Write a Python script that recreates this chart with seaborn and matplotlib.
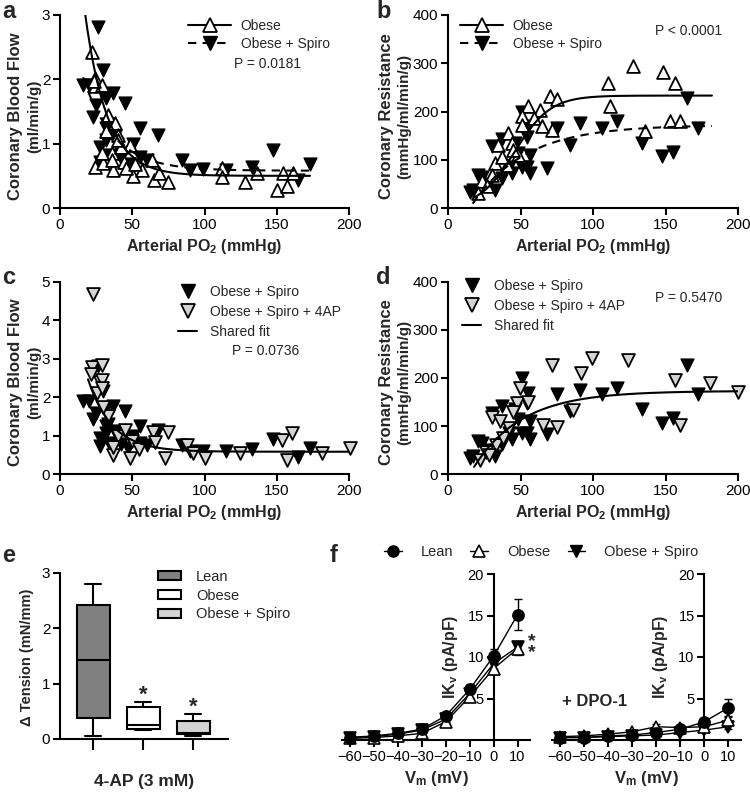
import numpy as np
import pandas as pd
import matplotlib
matplotlib.use("Agg")
import matplotlib.pyplot as plt
import seaborn as sns
from matplotlib.lines import Line2D
from matplotlib.patches import Patch

# ---- panel a / c : coronary blood flow (ml/min/g) vs arterial PO2 ----
obese_po2_flow = [21.9, 24.2, 24.2, 28.8, 33.4, 38.0, 40.4, 48.4, 35.8, 42.5, 24.2, 37.0, 30.0,
                  50.7, 57.0, 63.5, 65.0, 68.5, 75.0, 112, 112, 128, 136, 150, 154.5, 157, 161.5,
                  32, 36, 44, 46, 52, 40, 29, 23.7]
obese_flow = [2.43, 2.02, 1.89, 1.91, 1.45, 1.32, 1.14, 0.98, 0.85, 0.95, 0.64, 0.59, 0.70,
              0.49, 0.59, 0.75, 0.44, 0.54, 0.41, 0.62, 0.48, 0.41, 0.54, 0.28, 0.54, 0.34, 0.54,
              1.20, 0.75, 0.72, 0.62, 0.68, 1.05, 0.85, 1.98]
spiro_po2_flow = [26.5, 16.1, 20.0, 30.0, 23.0, 31.8, 36.5, 45.0, 31.8, 55.4, 68.0, 27.7, 31.8,
                  39.4, 50.7, 55.4, 59.9, 84.2, 90.0, 99.2, 115, 133, 147.6, 165, 173, 34, 42,
                  47, 28, 38, 33, 25]
spiro_flow = [2.82, 1.91, 1.91, 2.15, 1.42, 1.71, 1.78, 1.63, 1.24, 1.24, 1.14, 0.72, 1.06,
              1.00, 1.00, 0.80, 0.75, 0.75, 0.59, 0.61, 0.59, 0.64, 0.90, 0.44, 0.69, 0.82, 0.78,
              0.68, 0.95, 1.12, 1.30, 1.60]
ap_po2_flow = [23, 22, 27.7, 21.5, 25.4, 28.9, 28.9, 29, 64.6, 75, 65.7, 36.9, 48.4, 72.6, 87.7,
               92.3, 100.3, 124.6, 153.4, 160.3, 156.9, 181, 200.7, 33, 40, 45, 50, 55, 30, 37]
ap_flow = [4.70, 2.79, 2.40, 2.60, 2.10, 2.84, 2.45, 2.23, 1.10, 1.10, 0.84, 0.49, 0.41, 0.41,
           0.75, 0.54, 0.41, 0.54, 0.89, 1.06, 0.36, 0.54, 0.67, 1.50, 1.00, 1.15, 0.85, 0.65,
           1.75, 0.70]

# ---- panel b / d : coronary resistance (mmHg/ml/min/g) vs arterial PO2 ----
obese_po2_res = [70.3, 75, 110.6, 111.7, 127.8, 148.5, 156.6, 135.9, 153, 160, 72, 63.4, 55.4,
                 51, 59, 64.6, 41.6, 34.7, 43.9, 48.5, 50.8, 32.4, 30.1, 23.2, 20.9, 40.4, 37,
                 45, 27]
obese_res = [232, 225, 260, 211, 294, 281, 260, 159, 180, 180, 162, 204, 211, 190, 187, 169, 156,
             131, 135, 110, 173, 93, 69, 55, 31, 90, 105, 120, 45]
spiro_po2_res = [51, 55.4, 54.3, 46.2, 37, 30.1, 75, 84.1, 91, 106, 116.3, 133.6, 147.4, 155.4,
                 164.6, 172.6, 68, 56.5, 54.3, 56.5, 51, 44, 37, 32.3, 23.2, 17.5, 21, 15.2, 42,
                 26, 48]
spiro_res = [200, 169, 148, 135, 142, 128, 166, 131, 176, 166, 180, 135, 107, 117, 228, 166, 83,
             110, 86, 72, 86, 72, 62, 37, 65, 37, 69, 34, 86, 50, 115]
ap_po2_res = [71.5, 99, 92, 124.4, 156.6, 180.7, 200, 49.7, 65.7, 75, 86.4, 30, 47.4, 160, 22,
              26, 33, 38, 42, 55, 36, 28, 45]
ap_res = [227, 241, 210, 237, 196, 189, 171, 179, 102, 98, 133, 119, 147, 102, 30, 45, 60, 75,
          95, 150, 110, 40, 130]

# fitted curve parameters
fit_a_obese = dict(plateau=0.50, span=7.8, k=0.065, start=17.5, stop=173)
fit_a_spiro = dict(plateau=0.58, span=3.08, k=0.047, start=16, stop=173)
fit_b_obese = dict(top=233, x50=46, slope=12.3, start=18, stop=182)
fit_b_spiro = dict(top=172, x0=15, k=0.027, start=17, stop=182)
fit_c_shared = dict(plateau=0.58, span=6.04, k=0.06, start=19.4, stop=200)
fit_d_shared = dict(top=173, x0=15, k=0.03, start=18, stop=200)

# ---- panel e : 4-AP tension (min, q1, median, q3, max) ----
groups_e = ["Lean", "Obese", "Obese + Spiro"]
lean_tension = [0.05, 0.38, 1.43, 2.43, 2.80]
obese_tension = [0.17, 0.18, 0.25, 0.58, 0.67]
spiro_tension = [0.05, 0.09, 0.10, 0.33, 0.45]

# ---- panel f : IKv current-voltage ----
vm = [-60, -50, -40, -30, -20, -10, 0, 10]
lean_ik = [0.3, 0.5, 0.8, 1.3, 2.9, 6.1, 10.1, 15.1]
lean_ik_err = [0.1, 0.1, 0.15, 0.2, 0.4, 0.6, 0.9, 1.9]
obese_ik = [0.2, 0.3, 0.5, 0.8, 2.2, 5.2, 8.6, 11.0]
obese_ik_err = [0.1, 0.1, 0.1, 0.2, 0.3, 0.5, 0.7, 0.8]
spiro_ik = [0.3, 0.4, 0.7, 1.2, 2.5, 5.6, 9.2, 11.2]
spiro_ik_err = [0.1, 0.1, 0.1, 0.2, 0.3, 0.5, 0.7, 0.6]
lean_dpo = [0.3, 0.3, 0.5, 0.6, 0.9, 1.3, 2.2, 3.9]
lean_dpo_err = [0.1, 0.1, 0.1, 0.1, 0.2, 0.3, 0.5, 1.1]
obese_dpo = [0.4, 0.5, 0.7, 1.0, 1.6, 1.5, 1.6, 2.4]
obese_dpo_err = [0.1, 0.1, 0.1, 0.2, 0.3, 0.3, 0.3, 0.5]
spiro_dpo = [0.3, 0.3, 0.4, 0.5, 0.6, 0.9, 1.2, 1.6]
spiro_dpo_err = [0.1, 0.1, 0.1, 0.1, 0.1, 0.2, 0.2, 0.3]

sns.set_theme(style="ticks")
plt.rcParams['font.family'] = ['Liberation Sans', 'DejaVu Sans']
plt.rcParams['mathtext.fontset'] = 'custom'
plt.rcParams['mathtext.rm'] = 'Liberation Sans'
plt.rcParams['mathtext.bf'] = 'Liberation Sans:bold'
plt.rcParams['mathtext.it'] = 'Liberation Sans:italic'

W, H = 750, 795
fig = plt.figure(figsize=(7.5, 7.95), dpi=100)


def fx(px):
    return px / W


def fy(py):
    return 1 - py / H


def ax_at(l, t, r, b):
    return fig.add_axes([fx(l), fy(b), (r - l) / W, (b - t) / H])


def style(ax, tick_size=11):
    sns.despine(ax=ax)
    for s in ['left', 'bottom']:
        ax.spines[s].set_linewidth(1.5)
        ax.spines[s].set_color('black')
    ax.tick_params(width=1.5, length=5, labelsize=tick_size, colors='black', pad=2)
    ax.grid(False)


def decay(p):
    x = np.linspace(p['start'], p['stop'], 200)
    return x, p['plateau'] + p['span'] * np.exp(-p['k'] * x)


def rise(p):
    x = np.linspace(p['start'], p['stop'], 200)
    return x, p['top'] * (1 - np.exp(-p['k'] * (x - p['x0'])))


def logistic(p):
    x = np.linspace(p['start'], p['stop'], 200)
    return x, p['top'] / (1 + np.exp(-(x - p['x50']) / p['slope']))


SZ = 85
open_kw = dict(marker='^', s=SZ, color='white', edgecolor='black', linewidth=1.3, clip_on=False, zorder=3)
fill_kw = dict(marker='v', s=SZ, color='black', edgecolor='black', linewidth=1.0, clip_on=False, zorder=3)
gray_kw = dict(marker='v', s=SZ, color='#d4d4d4', edgecolor='black', linewidth=1.3, clip_on=False, zorder=3)
po2_label = r'Arterial PO$_\mathbf{2}$ (mmHg)'


def po2_axis(ax):
    ax.set_xlim(0, 200)
    ax.set_xticks([0, 50, 100, 150, 200])
    ax.set_xlabel(po2_label, fontsize=11.5, fontweight='bold', labelpad=4)


# ---------------- a ----------------
ax = ax_at(60, 15, 349, 208)
sns.scatterplot(x=spiro_po2_flow, y=spiro_flow, ax=ax, **fill_kw)
sns.scatterplot(x=obese_po2_flow, y=obese_flow, ax=ax, **open_kw)
x, y = decay(fit_a_obese)
sns.lineplot(x=x, y=y, color='black', lw=1.5, ax=ax, zorder=4)
x, y = decay(fit_a_spiro)
ax.plot(x, y, color='black', lw=1.5, dashes=(4, 3), zorder=4)
ax.set_ylim(0, 3)
ax.set_yticks([0, 1, 2, 3])
po2_axis(ax)
style(ax)
h = [Line2D([], [], color='black', lw=1.5, marker='^', ms=10, mfc='white', mec='black', mew=1.3),
     Line2D([], [], color='black', lw=1.5, ls=(0, (4, 3)), marker='v', ms=10, mfc='black', mec='black')]
ax.legend(h, ['Obese', 'Obese + Spiro'], loc='upper left', bbox_to_anchor=(fx(188), fy(19)),
          bbox_transform=fig.transFigure, frameon=False, fontsize=10, handlelength=3.1,
          handletextpad=0.7, labelspacing=0.3, borderpad=0, borderaxespad=0)
fig.text(fx(234), fy(64), 'P = 0.0181', fontsize=10, va='center')

# ---------------- b ----------------
ax = ax_at(448, 15, 738, 208)
sns.scatterplot(x=spiro_po2_res, y=spiro_res, ax=ax, **fill_kw)
sns.scatterplot(x=obese_po2_res, y=obese_res, ax=ax, **open_kw)
x, y = logistic(fit_b_obese)
sns.lineplot(x=x, y=y, color='black', lw=1.5, ax=ax, zorder=4)
x, y = rise(fit_b_spiro)
ax.plot(x, y, color='black', lw=1.5, dashes=(4, 3), zorder=4)
ax.set_ylim(0, 400)
ax.set_yticks([0, 100, 200, 300, 400])
po2_axis(ax)
style(ax)
ax.legend(h, ['Obese', 'Obese + Spiro'], loc='upper left', bbox_to_anchor=(fx(460), fy(19)),
          bbox_transform=fig.transFigure, frameon=False, fontsize=10, handlelength=3.1,
          handletextpad=0.7, labelspacing=0.3, borderpad=0, borderaxespad=0)
fig.text(fx(655), fy(31), 'P < 0.0001', fontsize=10, va='center')

# ---------------- c ----------------
ax = ax_at(60, 282, 349, 474)
sns.scatterplot(x=spiro_po2_flow, y=spiro_flow, ax=ax, **fill_kw)
sns.scatterplot(x=ap_po2_flow, y=ap_flow, ax=ax, **gray_kw)
x, y = decay(fit_c_shared)
sns.lineplot(x=x, y=y, color='black', lw=1.5, ax=ax, zorder=4)
ax.set_ylim(0, 5)
ax.set_yticks([0, 1, 2, 3, 4, 5])
po2_axis(ax)
style(ax)
h2 = [Line2D([], [], ls='none', marker='v', ms=10, mfc='black', mec='black'),
      Line2D([], [], ls='none', marker='v', ms=10, mfc='#d4d4d4', mec='black', mew=1.3),
      Line2D([], [], color='black', lw=1.5)]
lab2 = ['Obese + Spiro', 'Obese + Spiro + 4AP', 'Shared fit']
ax.legend(h2, lab2, loc='upper left', bbox_to_anchor=(fx(178), fy(285)),
          bbox_transform=fig.transFigure, frameon=False, fontsize=10, handlelength=1.4,
          handletextpad=0.9, labelspacing=0.42, borderpad=0, borderaxespad=0)
fig.text(fx(232), fy(351), 'P = 0.0736', fontsize=10, va='center')

# ---------------- d ----------------
ax = ax_at(448, 282, 738, 474)
sns.scatterplot(x=spiro_po2_res, y=spiro_res, ax=ax, **fill_kw)
sns.scatterplot(x=ap_po2_res, y=ap_res, ax=ax, **gray_kw)
x, y = rise(fit_d_shared)
sns.lineplot(x=x, y=y, color='black', lw=1.5, ax=ax, zorder=4)
ax.set_ylim(0, 400)
ax.set_yticks([0, 100, 200, 300, 400])
po2_axis(ax)
style(ax)
ax.legend(h2, lab2, loc='upper left', bbox_to_anchor=(fx(462), fy(279)),
          bbox_transform=fig.transFigure, frameon=False, fontsize=10, handlelength=1.4,
          handletextpad=0.9, labelspacing=0.42, borderpad=0, borderaxespad=0)
fig.text(fx(655), fy(298), 'P = 0.5470', fontsize=10, va='center')

# y labels for scatter panels
for xc, yc, l1, l2 in [(16, 116, 'Coronary Blood Flow', '(ml/min/g)'),
                       (386, 116, 'Coronary Resistance', '(mmHg/ml/min/g)'),
                       (16, 382, 'Coronary Blood Flow', '(ml/min/g)'),
                       (386, 382, 'Coronary Resistance', '(mmHg/ml/min/g)')]:
    fig.text(fx(xc), fy(yc), l1, rotation=90, fontsize=12, fontweight='bold', ha='center', va='center')
    fig.text(fx(xc + 18), fy(yc), l2, rotation=90, fontsize=11, fontweight='bold', ha='center', va='center')

# ---------------- e ----------------
ax = ax_at(60, 573, 228, 739)
df_e = pd.DataFrame({
    'group': np.repeat(groups_e, 5),
    'tension': lean_tension + obese_tension + spiro_tension,
})
box_colors = ['#808080', 'white', '#d3d3d3']
sns.boxplot(data=df_e, x='group', y='tension', hue='group', order=groups_e, hue_order=groups_e,
            palette=box_colors, saturation=1, whis=(0, 100), width=0.66, linecolor='black',
            linewidth=1.5, legend=False, ax=ax)
ax.set_xlim(-0.66, 2.7)
ax.set_ylim(0, 3)
ax.set_yticks([0, 1, 2, 3])
ax.set_xticks([0, 1, 2])
ax.set_xticklabels([])
ax.set_xlabel('4-AP (3 mM)', fontsize=12.5, fontweight='bold', labelpad=15)
ax.set_ylabel('')
style(ax)
ax.tick_params(axis='x', length=8)
ax.text(1, 0.61, '*', ha='center', va='bottom', fontsize=16, fontweight='bold')
ax.text(2, 0.39, '*', ha='center', va='bottom', fontsize=16, fontweight='bold')
fig.text(fx(27), fy(657), '\u0394 Tension (mN/mm)', rotation=90, fontsize=10.5, fontweight='bold',
         ha='center', va='center')
h3 = [Patch(facecolor=c, edgecolor='black', lw=1.5) for c in box_colors]
ax.legend(h3, groups_e, loc='upper left', bbox_to_anchor=(fx(158), fy(570)),
          bbox_transform=fig.transFigure, frameon=False, fontsize=10.5, handlelength=1.6,
          handleheight=0.6, handletextpad=1.0, labelspacing=0.32, borderpad=0, borderaxespad=0)

# ---------------- f ----------------
iv_label = r'IK$_\mathbf{v}$ (pA/pF)'
vm_label = r'V$_\mathbf{m}$ (mV)'


def iv_panel(ax, series):
    for vals, err, mk, mfc in series:
        ax.errorbar(vm, vals, yerr=err, fmt='none', ecolor='black', elinewidth=1, capsize=3,
                    capthick=1, zorder=2, clip_on=False)
        sns.lineplot(x=vm, y=vals, color='black', lw=1, marker=mk, markersize=8, mfc=mfc,
                     mec='black', mew=1.2, ax=ax, zorder=3, clip_on=False)
    ax.set_xlim(-63.3, 15.2)
    ax.set_ylim(0, 20)
    ax.set_xticks(vm)
    ax.set_yticks([5, 10, 15, 20])
    style(ax, tick_size=10.5)
    ax.spines['left'].set_position(('data', 0))
    ax.spines['bottom'].set_position(('data', 0))
    ax.set_xlabel(vm_label, fontsize=12, fontweight='bold', labelpad=4)
    ax.text(0.575, 0.5, iv_label, transform=ax.transAxes, rotation=90, fontsize=11.5,
            fontweight='bold', ha='center', va='center')


ax = ax_at(342, 574, 530, 740)
iv_panel(ax, [(spiro_ik, spiro_ik_err, 'v', 'black'),
              (obese_ik, obese_ik_err, '^', 'white'),
              (lean_ik, lean_ik_err, 'o', 'black')])
ax.text(16.0, 11.2, '*\n*', ha='center', va='center', fontsize=14, fontweight='bold',
        linespacing=0.55)

ax = ax_at(552, 574, 741, 740)
iv_panel(ax, [(spiro_dpo, spiro_dpo_err, 'v', 'black'),
              (obese_dpo, obese_dpo_err, '^', 'white'),
              (lean_dpo, lean_dpo_err, 'o', 'black')])
ax.text(-59, 4.6, '+ DPO-1', ha='left', va='center', fontsize=12, fontweight='bold')

h4 = [Line2D([], [], color='black', lw=1, marker='o', ms=8, mfc='black', mec='black'),
      Line2D([], [], color='black', lw=1, marker='^', ms=8, mfc='white', mec='black', mew=1.2),
      Line2D([], [], color='black', lw=1, marker='v', ms=8, mfc='black', mec='black')]
fig.legend(h4, ['Lean', 'Obese', 'Obese + Spiro'], loc='center left',
           bbox_to_anchor=(fx(384), fy(552)), ncol=3, frameon=False, fontsize=10.5,
           handlelength=1.2, handletextpad=1.3, columnspacing=1.2, borderpad=0, borderaxespad=0)

# panel letters
for lx, ly, letter in [(2, 12, 'a'), (376, 12, 'b'), (2, 278, 'c'), (376, 278, 'd'),
                       (2, 555, 'e'), (330, 555, 'f')]:
    fig.text(fx(lx), fy(ly), letter, fontsize=17, fontweight='bold', ha='left', va='center')

fig.savefig('out.png', dpi=100)
